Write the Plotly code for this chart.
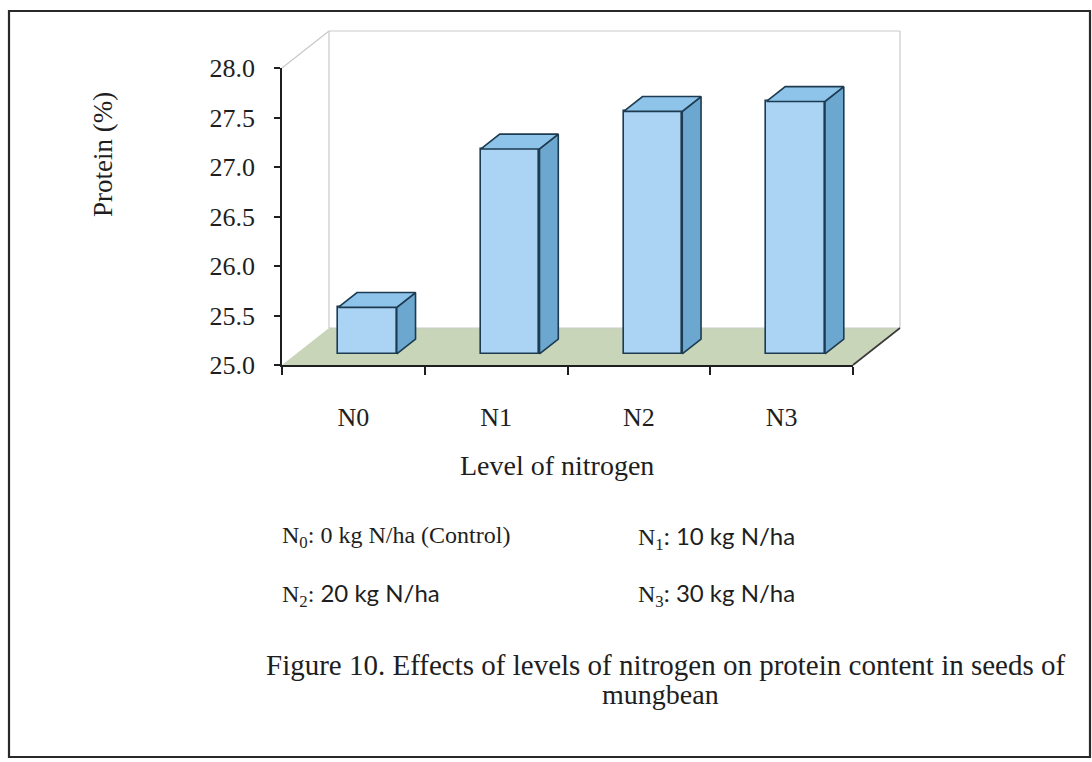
import plotly.graph_objects as go

# ---------------- data ----------------
categories = ["N0", "N1", "N2", "N3"]
protein = [25.47, 27.07, 27.45, 27.55]
y_ticks = [25.0, 25.5, 26.0, 26.5, 27.0, 27.5, 28.0]
y_title = "Protein (%)"
x_title = "Level of nitrogen"
legend_left = ["N<sub>0</sub>: 0 kg N/ha (Control)", "N<sub>2</sub>: "]
legend_left_sans = ["", "20 kg N/ha"]
legend_right = ["N<sub>1</sub>", "N<sub>3</sub>"]
legend_right_sans = [": 10 kg N/ha", ": 30 kg N/ha"]
caption_1 = "Figure 10. Effects of levels of nitrogen on protein content in seeds of"
caption_2 = "mungbean"

# ---------------- layout geometry ----------------
W, H = 1092, 762
PX_L, PX_R = 282, 853      # front plane, pixels
PX_T, PX_B = 68, 365
xr = [-0.5, len(categories) - 0.5]
yr = [y_ticks[0], y_ticks[-1]]
SLOT_PX = (PX_R - PX_L) / (xr[1] - xr[0])
VAL_PX = (PX_B - PX_T) / (yr[1] - yr[0])
DX = 47 / SLOT_PX          # depth vector in data units
DY = 37 / VAL_PX
F0, FD, BW = 0.3, 0.4, 0.41  # bar front depth fraction, bar depth, bar width

SERIF = "Liberation Serif"
SANS = "Lato"
INK = "#1e1e1e"
FRONT = "#abd3f3"
TOP = "#8ec4ea"
SIDE = "#6ca7cf"
EDGE = "#1d3b50"


def px_(x):
    return (PX_L + (x - xr[0]) * SLOT_PX) / W


def py_(y):
    return 1 - (PX_B - (y - yr[0]) * VAL_PX) / H


def path(points):
    return "M " + " L ".join(f"{px_(x):.5f},{py_(y):.5f}" for x, y in points) + " Z"


fig = go.Figure()

# front faces
xs = [i + F0 * DX for i in range(len(categories))]
base = yr[0] + F0 * DY
fig.add_trace(go.Bar(
    x=xs, y=[v - yr[0] for v in protein], base=base, width=BW,
    marker=dict(color=FRONT, line=dict(color=EDGE, width=1.6)),
    hovertext=[f"{c}: {v}" for c, v in zip(categories, protein)], hoverinfo="text",
    showlegend=False))

# side and top faces
side_x, side_y, top_x, top_y = [], [], [], []
for x, v in zip(xs, protein):
    xl, xrr = x - BW / 2, x + BW / 2
    yt = v + F0 * DY
    ddx, ddy = FD * DX, FD * DY
    side_x += [xrr, xrr, xrr + ddx, xrr + ddx, xrr, None]
    side_y += [base, yt, yt + ddy, base + ddy, base, None]
    top_x += [xl, xrr, xrr + ddx, xl + ddx, xl, None]
    top_y += [yt, yt, yt + ddy, yt + ddy, yt, None]

fig.add_trace(go.Scatter(x=side_x, y=side_y, mode="lines", fill="toself",
                         fillcolor=SIDE, line=dict(color=EDGE, width=1.6),
                         hoverinfo="skip", showlegend=False))
fig.add_trace(go.Scatter(x=top_x, y=top_y, mode="lines", fill="toself",
                         fillcolor=TOP, line=dict(color=EDGE, width=1.6),
                         hoverinfo="skip", showlegend=False))

# ---------------- decorations: floor, back wall, border ----------------
x_a, x_b = xr
y_a, y_b = yr
shapes = []
shapes.append(dict(type="path", xref="paper", yref="paper", layer="below",
                   path=path([(x_a, y_a), (x_b, y_a), (x_b + DX, y_a + DY), (x_a + DX, y_a + DY)]),
                   fillcolor="#c8d5b9", line=dict(width=0)))
wall = dict(color="#c9c9c9", width=1.2)
for p in [[(x_a + DX, y_a + DY), (x_a + DX, y_b + DY)],
          [(x_a + DX, y_b + DY), (x_b + DX, y_b + DY)],
          [(x_b + DX, y_b + DY), (x_b + DX, y_a + DY)],
          [(x_a, y_b), (x_a + DX, y_b + DY)],
          [(x_a + DX, y_a + DY), (x_b + DX, y_a + DY)]]:
    shapes.append(dict(type="line", xref="paper", yref="paper", layer="below",
                       x0=px_(p[0][0]), y0=py_(p[0][1]), x1=px_(p[1][0]), y1=py_(p[1][1]),
                       line=wall))
shapes.append(dict(type="line", xref="paper", yref="paper",
                   x0=px_(x_b), y0=py_(y_a), x1=px_(x_b + DX), y1=py_(y_a + DY),
                   line=dict(color="#3a3a3a", width=1.6)))
shapes.append(dict(type="rect", xref="paper", yref="paper",
                   x0=9 / W, x1=1090 / W, y0=1 - 757 / H, y1=1 - 11 / H,
                   line=dict(color="#2a2a2a", width=2.2)))

# ---------------- annotations ----------------
def note(text, x, y, size, family=SERIF, xanchor="center", angle=0):
    return dict(text=text, x=x / W, y=1 - y / H, xref="paper", yref="paper",
                xanchor=xanchor, yanchor="middle", textangle=angle, showarrow=False,
                font=dict(family=family, size=size, color=INK))


ann = []
ann.append(note(y_title, 103, 155, 27, angle=-90))
ann.append(note(x_title, 557, 465, 28))
rows = [537, 594]
for k in range(2):
    t = legend_left[k]
    if legend_left_sans[k]:
        t += f"<span style='font-family:{SANS}'>{legend_left_sans[k]}</span>"
    ann.append(note(t, 280, rows[k], 24, xanchor="left"))
    t = legend_right[k] + f"<span style='font-family:{SANS}'>{legend_right_sans[k]}</span>"
    ann.append(note(t, 636, rows[k], 24, xanchor="left"))
ann.append(note(caption_1, 666, 665, 29))
ann.append(note(caption_2, 660, 694, 28))

fig.update_layout(
    width=W, height=H, margin=dict(l=0, r=0, t=0, b=0, pad=0, autoexpand=False),
    paper_bgcolor="white", plot_bgcolor="rgba(0,0,0,0)",
    shapes=shapes, annotations=ann, bargap=0,
    xaxis=dict(domain=[PX_L / W, PX_R / W], range=xr, automargin=False,
               tickmode="array", tickvals=list(range(len(categories))), ticktext=categories,
               ticks="", showgrid=False, zeroline=False,
               showline=True, linecolor=INK, linewidth=1.8,
               tickfont=dict(family=SERIF, size=26, color=INK), ticklabelstandoff=28,
               minor=dict(tickmode="array", tickvals=[i - 0.5 for i in range(len(categories) + 1)],
                          ticks="outside", ticklen=8, tickwidth=1.8, tickcolor=INK, showgrid=False)),
    yaxis=dict(domain=[1 - PX_B / H, 1 - PX_T / H], range=yr, automargin=False,
               tickmode="array", tickvals=y_ticks, tickformat=".1f",
               ticks="outside", ticklen=6, tickwidth=1.8, tickcolor=INK,
               showgrid=False, zeroline=False,
               showline=True, linecolor=INK, linewidth=1.8,
               tickfont=dict(family=SERIF, size=26, color=INK), ticklabelstandoff=14),
)

fig.write_html("out.html")
